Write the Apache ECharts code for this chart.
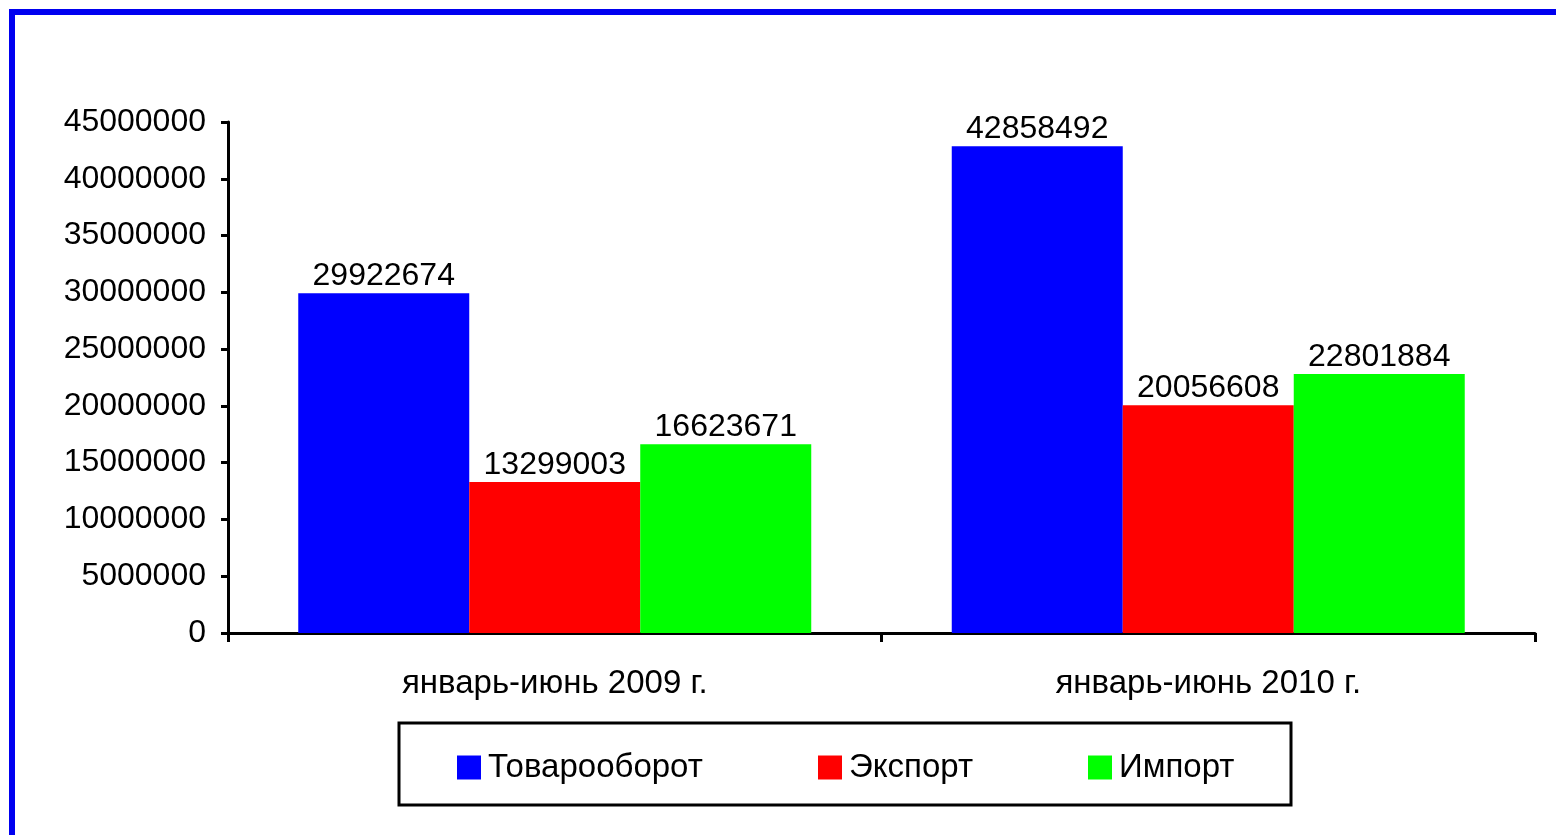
<!DOCTYPE html>
<html><head><meta charset="utf-8">
<script src="https://cdn.jsdelivr.net/npm/echarts@6/dist/echarts.min.js"></script>
<style>html,body{margin:0;padding:0;background:#fff}#c{width:1556px;height:835px}</style>
</head><body><div id="c"></div>
<script>
const categories = ['январь-июнь 2009 г.', 'январь-июнь 2010 г.'];
const seriesNames = ['Товарооборот', 'Экспорт', 'Импорт'];
const turnover = [29922674, 42858492];
const exportVals = [13299003, 20056608];
const importVals = [16623671, 22801884];
const yTicks = [0, 45000000, 5000000];
const colors = ['#0000FF', '#FF0000', '#00FF00'];

const FONT = 'Liberation Sans';
const chart = echarts.init(document.getElementById('c'));
const values = [turnover, exportVals, importVals];
const legendLefts = [457, 818, 1088];
chart.setOption({
  animation: false,
  backgroundColor: '#fff',
  textStyle: {fontFamily: FONT},
  grid: {left: 228, right: 21, top: 122, bottom: 202, containLabel: false},
  legend: seriesNames.map((n, i) => ({
    data: [n], left: legendLefts[i], top: 751, padding: 0, icon: 'rect', itemWidth: 24, itemHeight: 24,
    itemGap: 0, selectedMode: false,
    textStyle: {fontFamily: FONT, fontSize: 33, color: '#000', padding: [0, 0, 0, 2]}
  })),
  xAxis: {
    type: 'category', data: categories,
    axisLine: {lineStyle: {color: '#000', width: 3}},
    axisTick: {show: true, length: 9, lineStyle: {color: '#000', width: 3}},
    axisLabel: {fontFamily: FONT, fontSize: 33, color: '#000', margin: 34}
  },
  yAxis: {
    type: 'value', min: yTicks[0], max: yTicks[1], interval: yTicks[2],
    axisLine: {show: true, lineStyle: {color: '#000', width: 3}},
    axisTick: {show: true, length: 7, lineStyle: {color: '#000', width: 3}},
    splitLine: {show: false},
    axisLabel: {fontFamily: FONT, fontSize: 32, color: '#000', margin: 22, formatter: v => String(v)}
  },
  series: seriesNames.map((n, i) => ({
    name: n, type: 'bar', data: values[i], barGap: '0%', barCategoryGap: '21.5%',
    itemStyle: {color: colors[i]},
    label: {show: true, position: 'top', distance: 1, fontFamily: FONT, fontSize: 32, color: '#000'}
  })),
  graphic: [
    {type: 'rect', shape: {x: 12, y: 12, width: 1600, height: 900}, style: {fill: 'none', stroke: '#0000F0', lineWidth: 6}, silent: true},
    {type: 'rect', shape: {x: 399, y: 723, width: 892, height: 82}, style: {fill: 'none', stroke: '#000', lineWidth: 3}, silent: true, z: -1}
  ]
});
</script></body></html>
